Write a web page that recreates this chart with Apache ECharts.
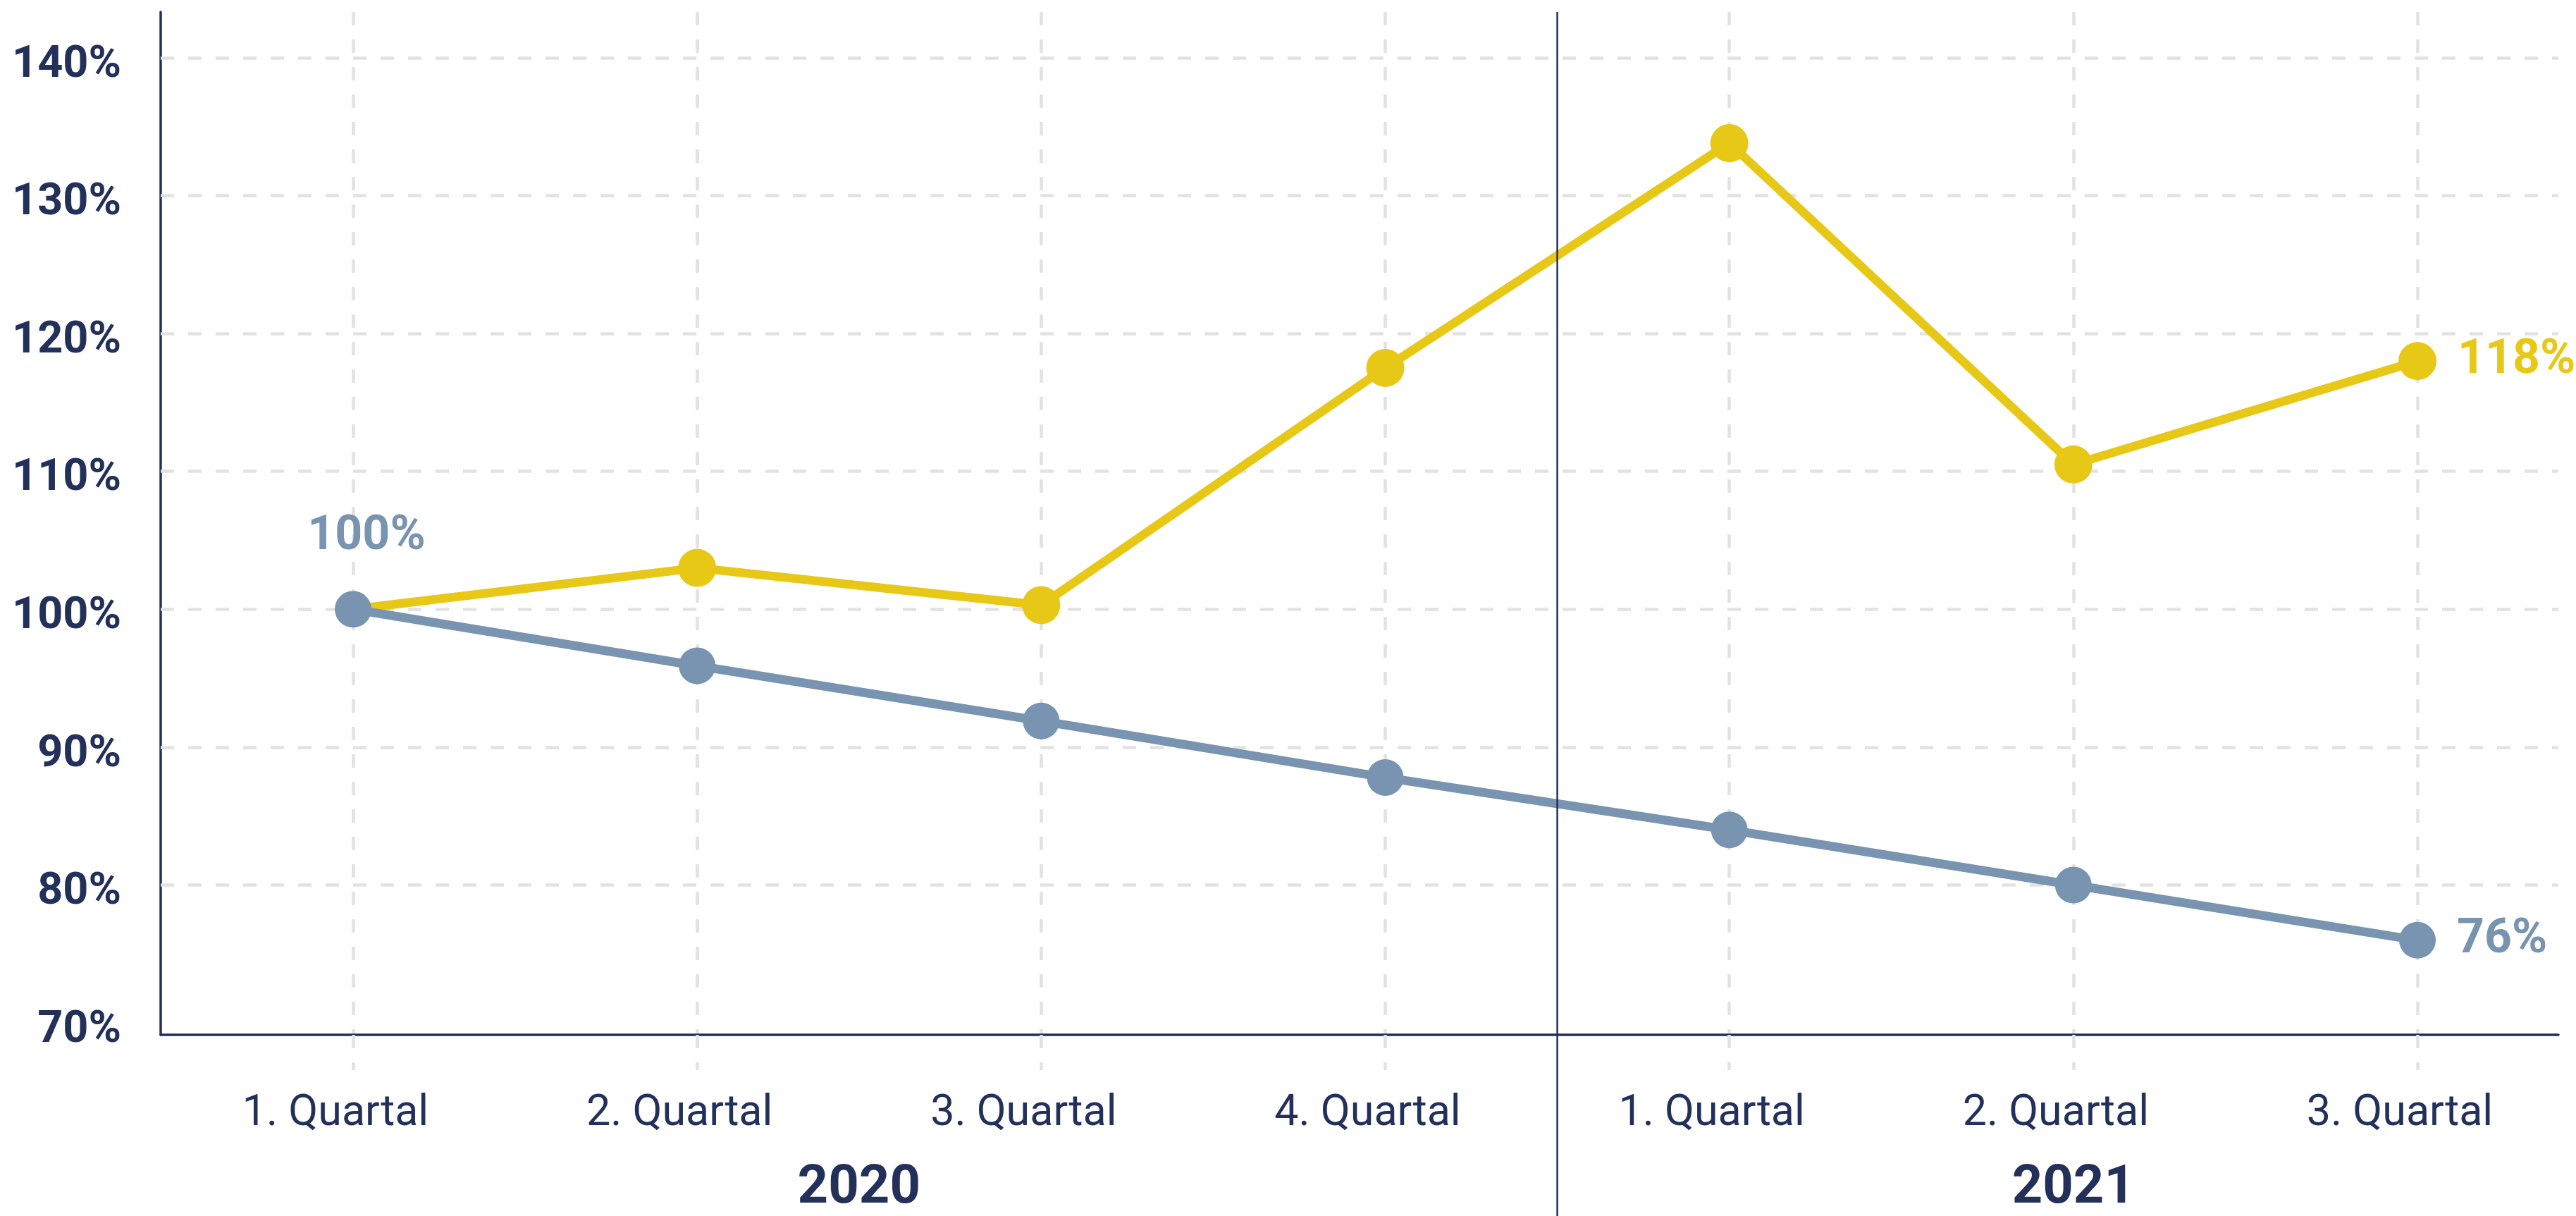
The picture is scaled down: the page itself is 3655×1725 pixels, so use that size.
<!DOCTYPE html>
<html>
<head>
<meta charset="utf-8">
<script src="https://cdn.jsdelivr.net/npm/echarts@6/dist/echarts.min.js"></script>
<style>
  html, body { margin: 0; padding: 0; background: #fff; }
  #chart { width: 3655px; height: 1725px; }
</style>
</head>
<body>
<div id="chart"></div>
<script>
// categories and years
const quarters = ['1. Quartal', '2. Quartal', '3. Quartal', '4. Quartal', '1. Quartal', '2. Quartal', '3. Quartal']
const years = ['2020', '2021']
// series values (percent)
const yellowValues = [100, 103, 100.3, 117.5, 133.8, 110.5, 118]
const blueValues = [100, 95.9, 91.9, 87.8, 84, 80, 76]
// horizontal gridline values
const gridValues = [80, 90, 100, 110, 120, 130, 140]

const NAVY = '#22305a'
const YELLOW = '#e8c817'
const BLUE = '#7894b0'
const GRID = '#e2e2e2'
const FONT = 'Roboto, "DejaVu Sans Condensed", sans-serif'

const yMin = 69.14
const yMax = 143.31

const chart = echarts.init(document.getElementById('chart'))

const dashed = { type: [19, 20], color: GRID, width: 4.5 }

const option = {
  animation: false,
  backgroundColor: '#fff',
  grid: [
    { left: 228, right: 25, top: 17, bottom: 257, containLabel: false, outerBoundsMode: 'none' },
    { left: 501, right: 225, top: 17, bottom: 257, containLabel: false, outerBoundsMode: 'none' }
  ],
  xAxis: [
    {
      // plain axis, only for the bottom line
      type: 'value', gridIndex: 0, min: 0, max: 1,
      axisLine: { show: true, lineStyle: { color: NAVY, width: 3.5 } },
      axisTick: { show: false }, axisLabel: { show: false }, splitLine: { show: false }
    },
    {
      type: 'category', gridIndex: 1, boundaryGap: false, data: quarters,
      axisLine: { show: false },
      axisTick: { show: true, length: 50, lineStyle: dashed },
      splitLine: { show: true, lineStyle: dashed },
      axisLabel: {
        color: NAVY, fontFamily: FONT, fontSize: 61, margin: 82,
        padding: [0, 50, 0, 0]
      }
    }
  ],
  yAxis: [
    {
      type: 'value', gridIndex: 0, min: yMin, max: yMax,
      splitNumber: 7, minInterval: 10, maxInterval: 10,
      axisLine: { show: true, lineStyle: { color: NAVY, width: 3.5 } },
      axisTick: { show: false },
      splitLine: { show: false },
      axisLabel: {
        color: NAVY, fontFamily: FONT, fontWeight: 'bold', fontSize: 63, margin: 56,
        verticalAlign: 'top', lineHeight: 22,
        formatter: v => Math.abs(v - Math.round(v / 10) * 10) < 1e-6 ? Math.round(v) + '%' : ''
      }
    },
    { type: 'value', gridIndex: 1, min: yMin, max: yMax, show: false }
  ],
  series: [
    {
      // horizontal dashed gridlines
      type: 'line', xAxisIndex: 0, yAxisIndex: 0, data: [], z: 1, silent: true,
      markLine: {
        z: 1, silent: true, symbol: ['none', 'none'], label: { show: false },
        lineStyle: dashed,
        data: gridValues.map(v => ({ yAxis: v }))
      }
    },
    {
      name: 'gelb', type: 'line', xAxisIndex: 1, yAxisIndex: 1, z: 3,
      symbol: 'circle', symbolSize: 54,
      lineStyle: { color: YELLOW, width: 12.5 },
      itemStyle: { color: YELLOW },
      data: yellowValues.map((v, i) => {
        if (i === 0) return { value: v, symbol: 'none' }
        if (i === yellowValues.length - 1) return { value: v, label: { show: true, position: 'right', distance: 30 } }
        return v
      }),
      label: {
        show: false, color: YELLOW, fontFamily: FONT, fontWeight: 'bold', fontSize: 68,
        formatter: p => p.value + '%'
      }
    },
    {
      name: 'blau', type: 'line', xAxisIndex: 1, yAxisIndex: 1, z: 4,
      symbol: 'circle', symbolSize: 52,
      lineStyle: { color: BLUE, width: 12.5 },
      itemStyle: { color: BLUE },
      data: blueValues.map((v, i) => {
        if (i === 0) return { value: v, label: { show: true, position: 'top', distance: 42, offset: [19, 0] } }
        if (i === blueValues.length - 1) return { value: v, label: { show: true, position: 'right', distance: 30 } }
        return v
      }),
      label: {
        show: false, color: BLUE, fontFamily: FONT, fontWeight: 'bold', fontSize: 68,
        formatter: p => p.value + '%'
      }
    }
  ]
}

chart.setOption(option)

// separator between the years and the year labels, placed from the axis scale
const px = i => chart.convertToPixel({ xAxisIndex: 1 }, i)
const axisStart = chart.convertToPixel({ xAxisIndex: 0 }, 0)
const sepX = (px(3) + px(4)) / 2
const yearCenters = [(axisStart + sepX) / 2, px(5)]

chart.setOption({
  graphic: [
    {
      type: 'line', z: 10,
      shape: { x1: sepX, y1: 17, x2: sepX, y2: 1725 },
      style: { stroke: NAVY, lineWidth: 2.5 }
    }
  ].concat(years.map((y, i) => ({
    type: 'text', z: 10,
    x: yearCenters[i], y: 1687,
    style: {
      text: y, fill: NAVY, font: 'bold 76px ' + FONT,
      align: 'center', verticalAlign: 'middle'
    }
  })))
})
</script>
</body>
</html>
